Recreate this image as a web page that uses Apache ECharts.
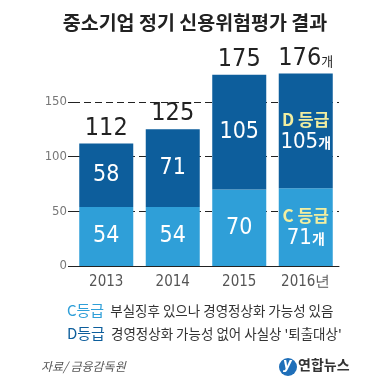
<!DOCTYPE html>
<html><head><meta charset="utf-8">
<script src="https://cdn.jsdelivr.net/npm/echarts@6/dist/echarts.min.js"></script>
<style>html,body{margin:0;padding:0;background:#fff}#c{width:390px;height:385px}</style>
</head><body><div id="c"></div>
<script>
var categories = ['2013', '2014', '2015', '2016년'];
var gradeC = [54, 54, 70, 71];
var gradeD = [58, 71, 105, 105];
var totals = [112, 125, 175, 176];
var yTicks = [0, 50, 100, 150];

var KR = '"Noto Sans CJK KR", "Noto Sans", sans-serif';
var NUM = '"DejaVu Sans Condensed", "Liberation Sans Narrow", "Liberation Sans", Arial, sans-serif';
var LIGHT = '#2f9fd8', DARK = '#0d5e9c', YEL = '#f2eea0';

var innerRich = {
  n: { fontFamily: NUM, fontSize: 23, color: '#fff' },
  y: { fontFamily: KR, fontSize: 17, fontWeight: 'bold', color: YEL, lineHeight: 23 },
  w: { fontFamily: NUM, fontSize: 22, color: '#fff', lineHeight: 23 },
  s: { fontFamily: KR, fontSize: 14, fontWeight: 'bold', color: '#fff', lineHeight: 23 }
};

var chart = echarts.init(document.getElementById('c'));
chart.setOption({
  backgroundColor: '#fff',
  animation: false,
  title: {
    text: '중소기업 정기 신용위험평가 결과',
    left: 'center', top: 8,
    textStyle: { fontFamily: KR, fontSize: 19.5, fontWeight: 'bold', color: '#222' }
  },
  grid: { left: 73, right: 51, top: 102, bottom: 119 },
  xAxis: {
    type: 'category', data: categories,
    axisLine: { lineStyle: { color: '#222', width: 1 } },
    axisTick: { show: false },
    axisLabel: { interval: 0, color: '#555', fontFamily: NUM, fontSize: 15, margin: 9 }
  },
  yAxis: {
    type: 'value', min: 0, max: 150, interval: 50,
    axisLine: { show: false },
    axisTick: { show: true, length: 5, lineStyle: { color: '#222', type: [7, 4] } },
    splitLine: { lineStyle: { color: '#222', type: [7, 4], width: 1 } },
    axisLabel: { color: '#777', fontFamily: NUM, fontSize: 13, margin: 6,
      formatter: function (v) { return yTicks.indexOf(v) >= 0 ? String(v) : ''; } }
  },
  series: [
    {
      type: 'bar', stack: 's', data: gradeC, barWidth: 54, clip: false,
      itemStyle: { color: LIGHT },
      label: {
        show: true, position: 'inside',
        formatter: function (p) {
          if (p.dataIndex === 3) return '{y|C 등급}\n{w|' + p.value + '}{s|개}';
          return '{n|' + p.value + '}';
        },
        rich: innerRich
      }
    },
    {
      type: 'bar', stack: 's', data: gradeD, barWidth: 54, clip: false,
      itemStyle: { color: DARK },
      label: {
        show: true, position: 'inside',
        formatter: function (p) {
          if (p.dataIndex === 3) return '{y|D 등급}\n{w|' + p.value + '}{s|개}';
          return '{n|' + p.value + '}';
        },
        rich: innerRich
      }
    },
    {
      type: 'bar', stack: 's', data: [0, 0, 0, 0], barWidth: 54, clip: false,
      itemStyle: { color: 'transparent' },
      label: {
        show: true, position: 'top', distance: 3,
        formatter: function (p) {
          return '{t|' + totals[p.dataIndex] + '}' + (p.dataIndex === 3 ? '{u|개}' : '');
        },
        rich: {
          t: { fontFamily: NUM, fontSize: 25, color: '#222' },
          u: { fontFamily: KR, fontSize: 13, color: '#222', padding: [6, 0, 0, 0] }
        }
      }
    }
  ],
  graphic: [
    { type: 'text', left: 67, top: 303, style: {
      text: '{c|C등급}  부실징후 있으나 경영정상화 가능성 있음',
      font: '13.5px ' + KR, fill: '#333',
      rich: { c: { fontFamily: KR, fontSize: 15, fill: LIGHT, color: LIGHT } } } },
    { type: 'text', left: 67, top: 326, style: {
      text: "{d|D등급}  경영정상화 가능성 없어 사실상 '퇴출대상'",
      font: '13.5px ' + KR, fill: '#333',
      rich: { d: { fontFamily: KR, fontSize: 15, fill: DARK, color: DARK } } } },
    { type: 'text', left: 41, top: 360, style: {
      text: '자료/ 금융감독원', font: 'italic 12px ' + KR, fill: '#555' } },
    { type: 'circle', shape: { cx: 288, cy: 367, r: 9 }, style: { fill: '#1f6fb9' } },
    { type: 'text', left: 283, top: 358, style: {
      text: 'y', font: 'italic bold 15px ' + NUM, fill: '#fff' } },
    { type: 'text', left: 298, top: 358, style: {
      text: '연합뉴스', font: 'bold 14px ' + KR, fill: '#333' } }
  ]
});
</script></body></html>
